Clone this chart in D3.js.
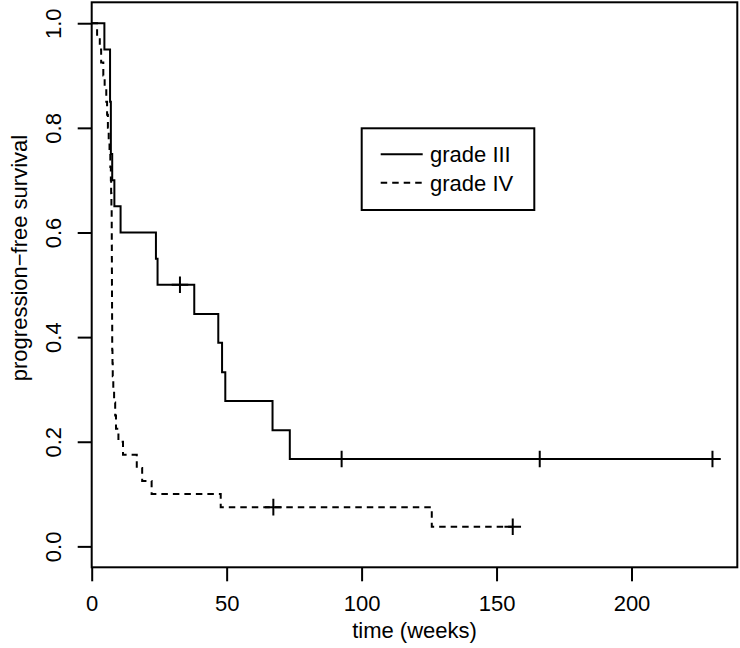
<!DOCTYPE html>
<html>
<head>
<meta charset="utf-8">
<script src="https://cdn.jsdelivr.net/npm/d3@7"></script>
<style>
  html, body { margin: 0; padding: 0; background: #fff; }
  svg { display: block; }
  text { font-family: "Liberation Sans", Arial, Helvetica, sans-serif; fill: #000; }
</style>
</head>
<body>
<svg id="chart" width="740" height="648"></svg>
<script>
// ---- data ----
const gradeIIITimes = [0, 4.7, 6.8, 7.1, 7.6, 8.4, 10.7, 23.8, 24.4, 38, 46.9, 48.3, 49.5, 67, 73.4, 230];
const gradeIIISurv  = [1, 0.95, 0.85, 0.75, 0.70, 0.65, 0.60, 0.55, 0.50, 0.444, 0.389, 0.333, 0.278, 0.222, 0.167, 0.167];
const gradeIIICensorTimes = [32.7, 92.6, 166, 230];
const gradeIIICensorSurv  = [0.50, 0.167, 0.167, 0.167];

const gradeIVTimes = [0, 2, 3, 3.5, 4.3, 4.8, 5.4, 5.7, 6, 6.3, 6.6, 6.9, 7.1, 7.2, 7.3,
  7.4, 7.42, 7.44, 7.46, 7.48, 7.5, 7.52, 7.54, 7.56, 7.6, 7.7, 7.8, 8.0, 8.3, 8.7, 9.0, 9.9,
  11.6, 16.7, 18.7, 22.2, 47.8, 126, 156];
const gradeIVSurv = [1, 0.975, 0.95, 0.925, 0.90, 0.875, 0.85, 0.825, 0.80, 0.775, 0.75, 0.725, 0.70, 0.675, 0.65,
  0.625, 0.60, 0.575, 0.55, 0.525, 0.50, 0.475, 0.45, 0.425, 0.375, 0.35, 0.325, 0.30, 0.275, 0.25, 0.225, 0.20,
  0.175, 0.15, 0.125, 0.10, 0.075, 0.0375, 0.0375];
const gradeIVCensorTimes = [67.3, 156];
const gradeIVCensorSurv  = [0.075, 0.0375];

const xTicks = [0, 50, 100, 150, 200];
const yTicks = [0.0, 0.2, 0.4, 0.6, 0.8, 1.0];
const yTickLabels = ["0.0", "0.2", "0.4", "0.6", "0.8", "1.0"];
const legendLabels = ["grade III", "grade IV"];
const xTitle = "time (weeks)";
const yTitle = "progression\u2212free survival";

// ---- layout ----
const L = 91.7, R = 737.3, T = 2.3, B = 567.3;
const FS = 22;
const svg = d3.select("#chart");

const x = d3.scaleLinear().domain([0, 230 * 1.04]).range([L, R]);
const y = d3.scaleLinear().domain([-0.04, 1.04]).range([B, T]);

// axes
const xAxis = svg.append("g").attr("transform", `translate(0,${B})`)
  .call(d3.axisBottom(x).tickValues(xTicks).tickFormat(d3.format("d"))
    .tickSize(14).tickSizeOuter(0).tickPadding(14));
xAxis.select(".domain").remove();
xAxis.selectAll("line").attr("stroke", "#000").attr("stroke-width", 2);
xAxis.selectAll("text").attr("font-size", FS).attr("fill", "#000")
  .attr("font-family", "Liberation Sans, Arial, sans-serif");

const yAxis = svg.append("g").attr("transform", `translate(${L},0)`)
  .call(d3.axisLeft(y).tickValues(yTicks).tickFormat((d, i) => yTickLabels[i])
    .tickSize(14).tickSizeOuter(0));
yAxis.select(".domain").remove();
yAxis.selectAll("line").attr("stroke", "#000").attr("stroke-width", 2);
yAxis.selectAll("text").attr("font-size", FS).attr("fill", "#000")
  .attr("font-family", "Liberation Sans, Arial, sans-serif")
  .attr("transform", "rotate(-90)")
  .attr("x", 0).attr("y", -30.7).attr("dy", null)
  .attr("text-anchor", "middle");

// box
svg.append("rect").attr("x", L).attr("y", T).attr("width", R - L).attr("height", B - T)
  .attr("fill", "none").attr("stroke", "#000").attr("stroke-width", 2);

// titles
svg.append("text").attr("x", (L + R) / 2).attr("y", 638.3).attr("text-anchor", "middle")
  .attr("font-size", FS).text(xTitle);
svg.append("text").attr("transform", `translate(27,258) rotate(-90)`).attr("text-anchor", "middle")
  .attr("font-size", FS).text(yTitle);

// curves
const line = d3.line().x(d => x(d[0])).y(d => y(d[1])).curve(d3.curveStepAfter);
const ptsIII = gradeIIITimes.map((t, i) => [t, gradeIIISurv[i]]);
const ptsIV = gradeIVTimes.map((t, i) => [t, gradeIVSurv[i]]);

svg.append("path").attr("d", line(ptsIV)).attr("fill", "none").attr("stroke", "#000")
  .attr("stroke-width", 2).attr("stroke-dasharray", "6.5,5");
svg.append("path").attr("d", line(ptsIII)).attr("fill", "none").attr("stroke", "#000")
  .attr("stroke-width", 2);

// censor marks
const h = 8.3;
function plus(t, s) {
  const cx = x(t), cy = y(s);
  return `M${cx - h},${cy}H${cx + h}M${cx},${cy - h}V${cy + h}`;
}
svg.append("g").selectAll("path").data(gradeIIICensorTimes).join("path")
  .attr("d", (t, i) => plus(t, gradeIIICensorSurv[i]))
  .attr("stroke", "#000").attr("stroke-width", 2).attr("fill", "none");
svg.append("g").selectAll("path").data(gradeIVCensorTimes).join("path")
  .attr("d", (t, i) => plus(t, gradeIVCensorSurv[i]))
  .attr("stroke", "#000").attr("stroke-width", 2).attr("fill", "none");

// legend
const lg = svg.append("g");
lg.append("rect").attr("x", 361.7).attr("y", 128.3).attr("width", 172.6).attr("height", 81.7)
  .attr("fill", "#fff").attr("stroke", "#000").attr("stroke-width", 2);
const rowY = [154.3, 182.7];
const dashes = [null, "6.5,5"];
legendLabels.forEach((lab, i) => {
  lg.append("line").attr("x1", 380.7).attr("x2", 422.7).attr("y1", rowY[i]).attr("y2", rowY[i])
    .attr("stroke", "#000").attr("stroke-width", 2).attr("stroke-dasharray", dashes[i]);
  lg.append("text").attr("x", 430).attr("y", rowY[i] + 8).attr("font-size", FS).text(lab);
});
</script>
</body>
</html>
